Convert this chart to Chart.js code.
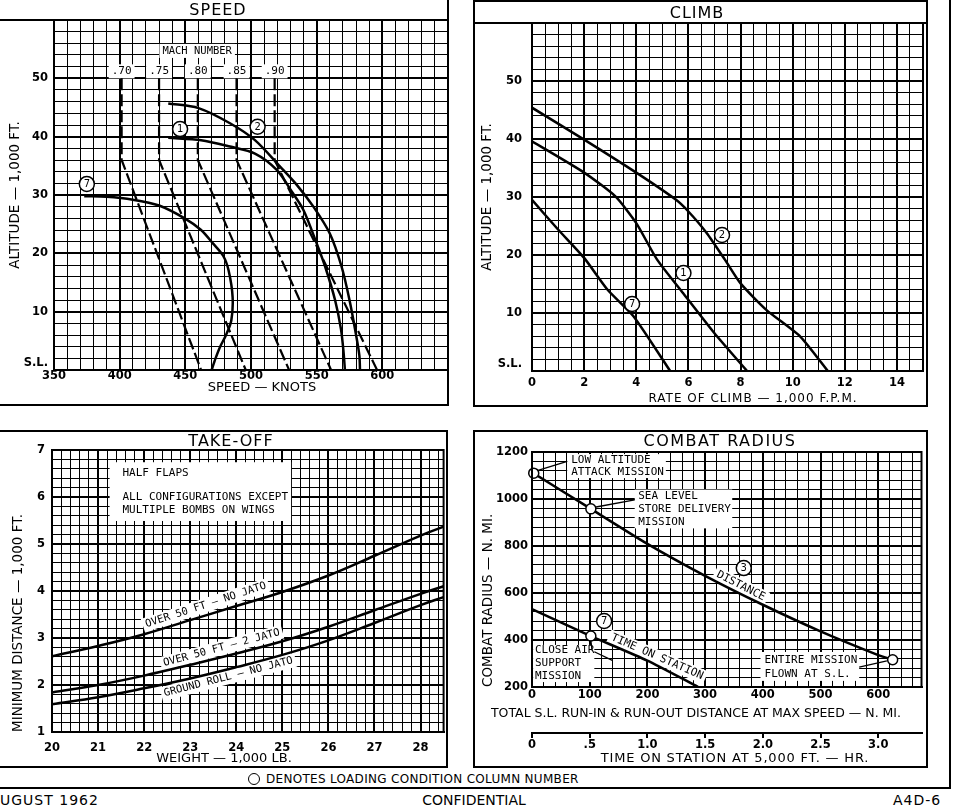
<!DOCTYPE html>
<html>
<head>
<meta charset="utf-8">
<title>A4D-6 performance charts</title>
<script src="https://cdn.jsdelivr.net/npm/chart.js@4.4.1/dist/chart.umd.min.js"></script>
<style>
  body { margin: 0; width: 960px; height: 812px; position: relative; overflow: hidden; background: #fff; color: #000; font-family: "DejaVu Sans", sans-serif; }
  canvas { position: absolute; }
  .line { position: absolute; background: #000; }
  .box { position: absolute; border: 2px solid #000; box-sizing: border-box; }
  .lab { position: absolute; white-space: nowrap; text-align: center; line-height: 16px; }
  .head { font-size: 16px; letter-spacing: 1px; }
</style>
</head>
<body>
<!-- rahmen -->
<div class="box" style="left:-4px;top:-4px;width:453px;height:410px"></div>
<div class="line" style="left:0;top:19px;width:448px;height:2px"></div>
<div class="box" style="left:473px;top:0;width:455px;height:407px"></div>
<div class="line" style="left:473px;top:22px;width:455px;height:2px"></div>
<div class="box" style="left:-4px;top:430px;width:452px;height:338px"></div>
<div class="box" style="left:473px;top:430px;width:455px;height:338px"></div>
<div class="line" style="left:949px;top:0;width:2px;height:789px"></div>
<div class="line" style="left:0;top:787px;width:951px;height:2px"></div>

<canvas id="speed" width="449" height="406" style="left:0;top:0"></canvas>
<canvas id="climb" width="455" height="407" style="left:473px;top:0"></canvas>
<canvas id="takeoff" width="448" height="337" style="left:0;top:431px"></canvas>
<canvas id="radius" width="455" height="337" style="left:473px;top:431px"></canvas>

<div class="lab head" style="left:168px;top:2px;width:100px">SPEED</div>
<div class="lab head" style="left:647px;top:5px;width:100px">CLIMB</div>
<div class="lab head" style="left:156px;top:433px;width:150px">TAKE-OFF</div>
<div class="lab head" style="left:620px;top:433px;width:200px;letter-spacing:1.5px">COMBAT RADIUS</div>

<div class="lab" style="left:162px;top:379px;width:200px;font-size:13px">SPEED — KNOTS</div>
<div class="lab" style="left:603px;top:390px;width:300px;font-size:12px;letter-spacing:1px">RATE OF CLIMB — 1,000 F.P.M.</div>
<div class="lab" style="left:124px;top:750px;width:200px;font-size:13px">WEIGHT — 1,000 LB.</div>
<div class="lab" style="left:446px;top:705px;width:500px;font-size:12.5px">TOTAL S.L. RUN-IN &amp; RUN-OUT DISTANCE AT MAX SPEED — N. MI.</div>
<div class="lab" style="left:535px;top:750px;width:400px;font-size:13px;letter-spacing:0.8px">TIME ON STATION AT 5,000 FT. — HR.</div>

<div style="position:absolute;left:248px;top:773px;width:10px;height:10px;border:1.5px solid #000;border-radius:50%"></div>
<div class="lab" style="left:266px;top:771px;text-align:left;font-size:12px;letter-spacing:0.3px">DENOTES LOADING CONDITION COLUMN NUMBER</div>
<div class="lab" style="left:0;top:792px;text-align:left;font-size:14px;letter-spacing:1px">UGUST 1962</div>
<div class="lab" style="left:374px;top:792px;width:200px;font-size:14px">CONFIDENTIAL</div>
<div class="lab" style="left:893px;top:792px;text-align:left;font-size:14px;letter-spacing:1px">A4D-6</div>

<script>
/* ---- SPEED: altitude (1000 ft) vs speed (knots) ---- */
var speedKts1 = [437, 462, 484, 503, 519.6, 531, 540, 550, 556.5, 564, 568.5, 570.5, 571.5];
var speedAlt1 = [39.8, 39.4, 38.3, 37.1, 34.3, 30.6, 27.4, 21.7, 17.7, 12.0, 7.0, 3.0, 0];
var speedKts2 = [437, 460, 484, 503, 522, 535, 547.5, 560, 569, 575, 580, 582.5, 583];
var speedAlt2 = [45.7, 44.9, 42.3, 39.4, 34.9, 31.7, 28.0, 23.4, 17.7, 12.0, 6.0, 2.5, 0];
var speedKts7 = [373, 390, 410, 430, 449.5, 462, 471, 479, 483, 486, 485, 481, 476.5, 473, 470];
var speedAlt7 = [29.8, 29.7, 29.2, 28.2, 26.0, 24.0, 21.7, 19.5, 17.0, 12.5, 8.5, 6.0, 4.0, 2.0, 0];

/* Mach lines: vertical above 36,000 ft, then down to sea level */
var machLabels = ['.70', '.75', '.80', '.85', '.90'];
var machKtsTropo = [401.5, 430, 459.5, 489, 518];
var machKtsSL = [462, 496, 529, 561, 596];
var machAlt = [50, 36, 0];

/* ---- CLIMB: altitude vs rate of climb (1000 fpm) ---- */
var climbRoc2 = [0, 2, 4, 5.5, 6, 6.7, 7.4, 8, 9, 10.3, 11.35];
var climbAlt2 = [45.4, 39.9, 34.2, 29.6, 27.5, 23.8, 19.2, 15.1, 10.5, 5.9, 0];
var climbRoc1 = [0, 2, 3.2, 4, 4.8, 5.8, 7, 8.25];
var climbAlt1 = [39.6, 34.2, 30.1, 25.5, 19.2, 13.4, 6.5, 0];
var climbRoc7 = [0, 1, 2, 2.9, 3.9, 5.3];
var climbAlt7 = [29.5, 24.4, 19.5, 14.0, 9.4, 0];

/* ---- TAKE-OFF: minimum distance (1000 ft) vs weight (1000 lb) ---- */
var toWeight = [20, 21, 22, 23, 24, 25, 26, 27, 28, 28.5];
var toOver50NoJato = [2.61, 2.83, 3.08, 3.38, 3.68, 3.98, 4.33, 4.75, 5.18, 5.37];
var toOver50TwoJato = [1.84, 2.0, 2.2, 2.43, 2.67, 2.93, 3.24, 3.59, 3.94, 4.10];
var toGroundRoll = [1.59, 1.74, 1.93, 2.14, 2.38, 2.64, 2.95, 3.32, 3.70, 3.87];

/* ---- COMBAT RADIUS (n. mi.) ---- */
var distNmi = [0, 100, 200, 300, 400, 500, 600, 625];
var distRadius = [1114, 961, 809, 673, 550, 437, 336, 316];
var distMarkNmi = [3, 102, 625];
var distMarkRadius = [1110, 958, 316];
var timeHr = [0, 0.5, 1.0, 1.44];
var timeRadius = [531, 419, 312, 200];
var timeMarkHr = [0.51];
var timeMarkRadius = [417];
var timeTickLabels = ['0', '.5', '1.0', '1.5', '2.0', '2.5', '3.0'];

Chart.defaults.color = '#000';
Chart.defaults.font.family = '"DejaVu Sans", sans-serif';
var tickFont = { size: 11.5, weight: 'bold' };
var titleFont = { size: 13.5 };
var noteFont = '11px "DejaVu Sans Mono", monospace';

function isWhole(v, n) {
    var r = Math.round(v / n) * n;
    return Math.abs(v - r) < 1e-6;
}

function curve(xs, ys, extra) {
    var ds = {
        data: xs.map(function (v, i) { return { x: v, y: ys[i] }; }),
        borderColor: '#000',
        borderWidth: 2.5,
        pointRadius: 0,
        fill: false,
        tension: 0.3,
        order: 2
    };
    for (var k in extra) ds[k] = extra[k];
    return ds;
}

/* Ticks in festen Schritten, ohne Zusatzstrich am Rand */
function stepTicks(min, max, step) {
    return function (s) {
        var t = [];
        for (var i = 0; min + i * step <= max + 1e-9; i++) {
            t.push({ value: +(min + i * step).toFixed(6) });
        }
        s.ticks = t;
    };
}

/* Höhenachse: S.L. etwas über die Nulllinie gehoben */
function altLabel(v) {
    if (v === 0) return ['S.L.', ''];
    return v % 10 === 0 && v <= 50 ? v : '';
}

function axis(min, max, step, major, label, size, pad, extra) {
    var a = {
        type: 'linear',
        min: min,
        max: max,
        grid: {
            color: '#000',
            lineWidth: function (c) { return c.tick && isWhole(c.tick.value, major) ? 2 : 1; },
            drawTicks: false
        },
        border: { color: '#000', width: 2 },
        ticks: {
            stepSize: step,
            autoSkip: false,
            maxRotation: 0,
            minRotation: 0,
            font: tickFont,
            padding: pad,
            callback: label
        },
        afterBuildTicks: stepTicks(min, max, step),
        afterFit: function (s) {
            if (s.isHorizontal()) s.height = size; else s.width = size;
        }
    };
    for (var k in extra) a[k] = extra[k];
    return a;
}

/* Rahmen um die Zeichenfläche */
var framePlugin = {
    id: 'frame',
    afterDatasetsDraw: function (chart) {
        var a = chart.chartArea, ctx = chart.ctx;
        ctx.save();
        ctx.strokeStyle = '#000';
        ctx.lineWidth = 2;
        ctx.strokeRect(a.left, a.top, a.right - a.left, a.bottom - a.top);
        ctx.restore();
    }
};

/* Beschriftungen im Diagramm, in Datenkoordinaten */
function drawNotes(chart, list, onTop) {
    var ctx = chart.ctx;
    list.forEach(function (n) {
        if (!!n.top !== onTop) return;
        var xs = chart.scales[n.xs || 'x'], ys = chart.scales.y;
        ctx.save();
        ctx.fillStyle = '#000';
        ctx.strokeStyle = '#000';
        if (n.t === 'box') {
            var x1 = xs.getPixelForValue(n.x1), y1 = ys.getPixelForValue(n.y1);
            var x2 = xs.getPixelForValue(n.x2), y2 = ys.getPixelForValue(n.y2);
            ctx.fillStyle = '#fff';
            ctx.fillRect(x1, y1, x2 - x1, y2 - y1);
        } else if (n.t === 'line') {
            ctx.lineWidth = 1.3;
            ctx.beginPath();
            ctx.moveTo(xs.getPixelForValue(n.x1), ys.getPixelForValue(n.y1));
            ctx.lineTo(xs.getPixelForValue(n.x2), ys.getPixelForValue(n.y2));
            ctx.stroke();
        } else if (n.t === 'num') {
            var cx = xs.getPixelForValue(n.x), cy = ys.getPixelForValue(n.y);
            ctx.beginPath();
            ctx.arc(cx, cy, 7.5, 0, Math.PI * 2);
            ctx.fillStyle = '#fff';
            ctx.fill();
            ctx.lineWidth = 1.5;
            ctx.stroke();
            ctx.fillStyle = '#000';
            ctx.font = '10px "DejaVu Sans", sans-serif';
            ctx.textAlign = 'center';
            ctx.textBaseline = 'middle';
            ctx.fillText(n.s, cx, cy + 0.5);
        } else {
            ctx.translate(xs.getPixelForValue(n.x), ys.getPixelForValue(n.y));
            if (n.rot) ctx.rotate(n.rot * Math.PI / 180);
            ctx.font = n.font || noteFont;
            ctx.textAlign = n.align || 'center';
            ctx.textBaseline = 'middle';
            if (n.bg) {
                var w = ctx.measureText(n.s).width;
                var x0 = n.align === 'left' ? 0 : -w / 2;
                ctx.fillStyle = '#fff';
                ctx.fillRect(x0 - 3, -7, w + 6, 14);
                ctx.fillStyle = '#000';
            }
            ctx.fillText(n.s, 0, 0);
        }
        ctx.restore();
    });
}

var notesPlugin = {
    id: 'notes',
    beforeDatasetsDraw: function (chart, args, opts) { drawNotes(chart, opts.list || [], false); },
    afterDatasetsDraw: function (chart, args, opts) { drawNotes(chart, opts.list || [], true); }
};

function baseOptions(padTop, scales, notes) {
    return {
        responsive: false,
        animation: false,
        layout: { padding: { top: padTop, right: 1, left: 0, bottom: 0 } },
        plugins: {
            legend: { display: false },
            tooltip: { enabled: false },
            notes: { list: notes }
        },
        scales: scales
    };
}

/* ---------- SPEED ---------- */
var speedNotes = [
    { t: 'text', x: 459, y: 54.7, s: 'MACH NUMBER', bg: true, font: '10.5px "DejaVu Sans Mono", monospace' },
    { t: 'num', x: 446, y: 41.3, s: '1', top: true },
    { t: 'num', x: 505, y: 41.7, s: '2', top: true },
    { t: 'num', x: 375, y: 31.9, s: '7', top: true }
];
var machSets = [];
machLabels.forEach(function (m, i) {
    speedNotes.push({ t: 'text', x: machKtsTropo[i], y: 51.2, s: m, bg: true });
    machSets.push(curve([machKtsTropo[i], machKtsTropo[i], machKtsSL[i]], machAlt,
        { borderWidth: 2.2, borderDash: [12, 4], tension: 0 }));
});

var chartSpeed = new Chart(document.getElementById('speed'), {
    type: 'line',
    data: {
        datasets: machSets.concat([
            curve(speedKts1, speedAlt1),
            curve(speedKts2, speedAlt2),
            curve(speedKts7, speedAlt7)
        ])
    },
    options: baseOptions(20, {
        x: axis(350, 650, 10, 50, function (v) { return v % 50 === 0 && v <= 600 ? v : ''; }, 36, -1),
        y: axis(0, 60, 2, 10, altLabel, 54, 6, {
            title: { display: true, text: 'ALTITUDE — 1,000 FT.', font: titleFont, padding: { top: 7, bottom: 0 } }
        })
    }, speedNotes),
    plugins: [framePlugin, notesPlugin]
});

/* ---------- CLIMB ---------- */
var climbNotes = [
    { t: 'num', x: 7.29, y: 23.45, s: '2', top: true },
    { t: 'num', x: 5.81, y: 16.9, s: '1', top: true },
    { t: 'num', x: 3.84, y: 11.55, s: '7', top: true }
];

var chartClimb = new Chart(document.getElementById('climb'), {
    type: 'line',
    data: {
        datasets: [
            curve(climbRoc2, climbAlt2, { tension: 0.2 }),
            curve(climbRoc1, climbAlt1, { tension: 0.2 }),
            curve(climbRoc7, climbAlt7, { tension: 0.2 })
        ]
    },
    options: baseOptions(23, {
        x: axis(0, 15, 0.5, 2, function (v) { return isWhole(v, 2) && v <= 14 ? v : ''; }, 36, 5),
        y: axis(0, 60, 2, 10, altLabel, 59, 10, {
            title: { display: true, text: 'ALTITUDE — 1,000 FT.', font: titleFont, padding: { top: 6, bottom: 0 } }
        })
    }, climbNotes),
    plugins: [framePlugin, notesPlugin]
});

/* ---------- TAKE-OFF ---------- */
var takeoffNotes = [
    { t: 'box', x1: 21.25, y1: 6.74, x2: 25.19, y2: 5.49 },
    { t: 'text', x: 21.53, y: 6.51, s: 'HALF FLAPS', align: 'left' },
    { t: 'text', x: 21.53, y: 6.0, s: 'ALL CONFIGURATIONS EXCEPT', align: 'left' },
    { t: 'text', x: 21.53, y: 5.72, s: 'MULTIPLE BOMBS ON WINGS', align: 'left' },
    { t: 'text', x: 23.34, y: 3.70, s: 'OVER 50 FT — NO JATO', rot: -18, bg: true, font: '10.5px "DejaVu Sans Mono", monospace' },
    { t: 'text', x: 23.68, y: 2.79, s: 'OVER 50 FT — 2 JATO', rot: -15, bg: true, font: '10.5px "DejaVu Sans Mono", monospace' },
    { t: 'text', x: 23.83, y: 2.17, s: 'GROUND ROLL — NO JATO', rot: -14.5, bg: true, font: '10.5px "DejaVu Sans Mono", monospace' }
];

var chartTakeoff = new Chart(document.getElementById('takeoff'), {
    type: 'line',
    data: {
        datasets: [
            curve(toWeight, toOver50NoJato, { tension: 0.4 }),
            curve(toWeight, toOver50TwoJato, { tension: 0.4 }),
            curve(toWeight, toGroundRoll, { tension: 0.4 })
        ]
    },
    options: baseOptions(19, {
        x: axis(20, 28.5, 0.2, 1, function (v) { return isWhole(v, 1) ? Math.round(v) : ''; }, 36, 9),
        y: axis(1, 7, 0.2, 1, function (v) { return isWhole(v, 1) ? Math.round(v) : ''; }, 52, 7, {
            title: { display: true, text: 'MINIMUM DISTANCE — 1,000 FT.', align: 'start', font: titleFont, padding: { top: 10, bottom: 0 } }
        })
    }, takeoffNotes),
    plugins: [framePlugin, notesPlugin]
});

/* ---------- COMBAT RADIUS ---------- */
var radiusNotes = [
    { t: 'box', x1: 61, y1: 1191, x2: 232, y2: 1089 },
    { t: 'text', x: 68, y: 1166, s: 'LOW ALTITUDE', align: 'left' },
    { t: 'text', x: 68, y: 1115, s: 'ATTACK MISSION', align: 'left' },
    { t: 'box', x1: 178, y1: 1040, x2: 347, y2: 875 },
    { t: 'text', x: 184, y: 1013, s: 'SEA LEVEL', align: 'left' },
    { t: 'text', x: 184, y: 958, s: 'STORE DELIVERY', align: 'left' },
    { t: 'text', x: 184, y: 902, s: 'MISSION', align: 'left' },
    { t: 'box', x1: 2, y1: 379, x2: 108, y2: 221 },
    { t: 'text', x: 5, y: 357, s: 'CLOSE AIR', align: 'left' },
    { t: 'text', x: 5, y: 302, s: 'SUPPORT', align: 'left' },
    { t: 'text', x: 5, y: 247, s: 'MISSION', align: 'left' },
    { t: 'box', x1: 396, y1: 349, x2: 567, y2: 226 },
    { t: 'text', x: 403, y: 315, s: 'ENTIRE MISSION', align: 'left' },
    { t: 'text', x: 403, y: 255, s: 'FLOWN AT S.L.', align: 'left' },
    { t: 'text', x: 362, y: 630, s: 'DISTANCE', rot: 27, bg: true },
    { t: 'text', x: 217, y: 328, s: 'TIME ON STATION', rot: 23.5, bg: true },
    { t: 'line', x1: 61, y1: 1160, x2: 9, y2: 1121, top: true },
    { t: 'line', x1: 178, y1: 996, x2: 111, y2: 966, top: true },
    { t: 'line', x1: 104, y1: 357, x2: 102, y2: 398, top: true },
    { t: 'line', x1: 108, y1: 350, x2: 140, y2: 312, top: true },
    { t: 'line', x1: 567, y1: 285, x2: 615, y2: 311, top: true },
    { t: 'num', x: 367, y: 706, s: '3', top: true },
    { t: 'num', x: 125, y: 481, s: '7', top: true }
];

var markerStyle = {
    showLine: false,
    pointRadius: 5,
    pointBorderWidth: 1.5,
    pointBackgroundColor: '#fff',
    pointBorderColor: '#000',
    clip: false,
    order: 0
};

var chartRadius = new Chart(document.getElementById('radius'), {
    type: 'line',
    data: {
        datasets: [
            curve(distNmi, distRadius, { tension: 0.2 }),
            curve(timeHr, timeRadius, { tension: 0.2, xAxisID: 'x2' }),
            curve(distMarkNmi, distMarkRadius, markerStyle),
            curve(timeMarkHr, timeMarkRadius, Object.assign({ xAxisID: 'x2' }, markerStyle))
        ]
    },
    options: baseOptions(21, {
        x: axis(0, 675, 20, 100, function (v) { return v % 100 === 0 && v <= 600 ? v : ''; }, 46, 1, { weight: 0 }),
        x2: {
            type: 'linear',
            position: 'bottom',
            weight: 1,
            min: 0,
            max: 675 / 200,
            grid: { drawOnChartArea: false, drawTicks: true, tickLength: 5, color: '#000', lineWidth: 2 },
            border: { color: '#000', width: 2 },
            ticks: {
                stepSize: 0.5,
                autoSkip: false,
                maxRotation: 0,
                font: tickFont,
                padding: 0,
                callback: function (v) { var i = Math.round(v / 0.5); return isWhole(v, 0.5) && i < timeTickLabels.length ? timeTickLabels[i] : ''; }
            },
            afterBuildTicks: stepTicks(0, 3.0, 0.5),
            afterFit: function (s) { s.height = 35; }
        },
        y: axis(200, 1200, 40, 200, function (v) { return v % 200 === 0 ? v : ''; }, 59, 4, {
            title: { display: true, text: 'COMBAT RADIUS — N. MI.', align: 'start', font: titleFont, padding: { top: 7, bottom: 0 } }
        })
    }, radiusNotes),
    plugins: [framePlugin, notesPlugin]
});
</script>
</body>
</html>
